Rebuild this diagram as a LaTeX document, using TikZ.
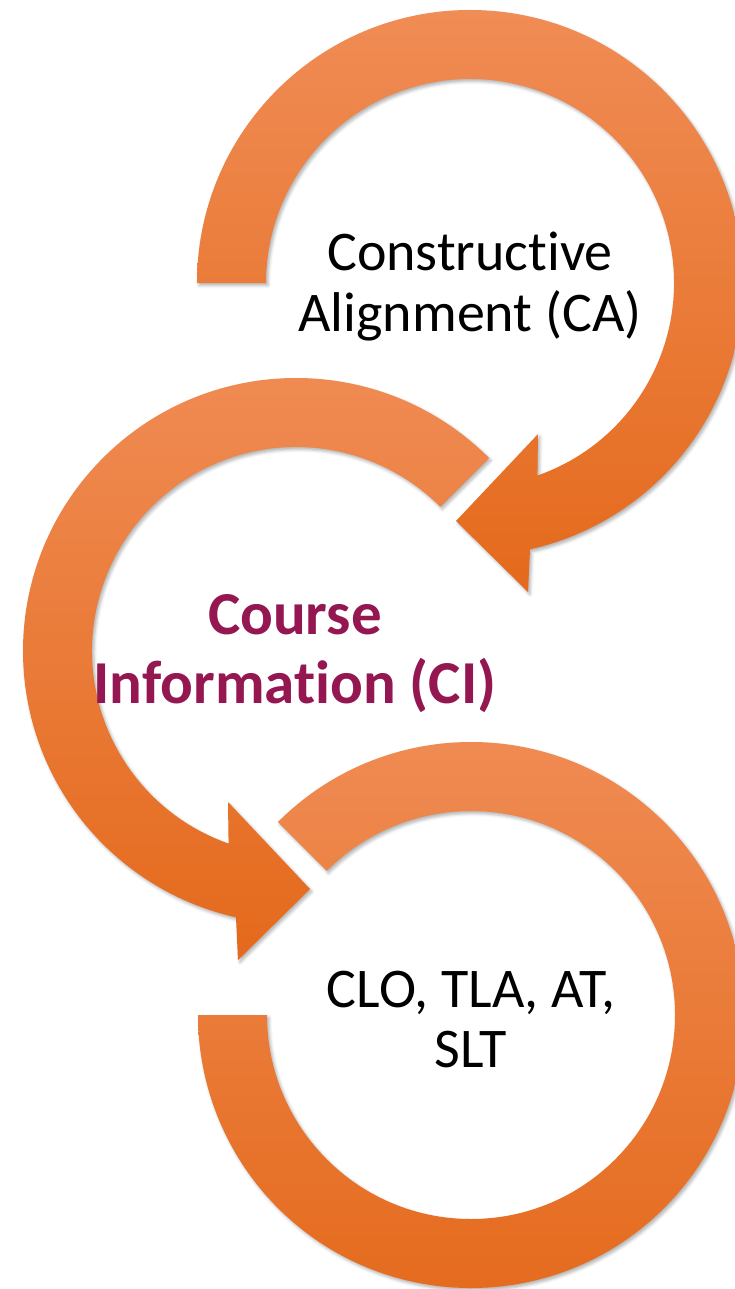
\documentclass[tikz,border=0pt]{standalone}
\usepackage{fontspec}
\setmainfont{Carlito}[Ligatures=NoCommon]
\usetikzlibrary{shadows.blur}
\definecolor{ringtop}{RGB}{240,140,85}
\definecolor{ringmid}{RGB}{242,126,46}
\definecolor{ringbot}{RGB}{228,106,28}
\definecolor{cimaroon}{RGB}{148,23,81}
\begin{document}
\begin{tikzpicture}[x=1pt, y=-1pt,
  ring/.style={top color=ringtop, middle color=ringmid, bottom color=ringbot, draw=none,
    blur shadow={shadow xshift=2pt, shadow yshift=-2.5pt, shadow blur radius=3pt, shadow opacity=30}},
  plaintext/.style={align=center, text=black, font=\fontsize{56}{60.5}\selectfont, inner sep=0pt},
  boldtext/.style={align=center, text=cimaroon, font=\bfseries\fontsize{61}{68.4}\selectfont, inner sep=0pt}]
\useasboundingbox (0,0) rectangle (735,1289);
\clip (0,0) rectangle (735,1289);
% top ring with arrowhead
\begin{scope}[shift={(470,283)}]
  \path[ring] (180:273) arc[start angle=180, end angle=437.3, radius=273]
    -- (58,309) -- (-14,238) -- (68,151)
    -- (430.7:204) arc[start angle=430.7, end angle=180, radius=204] -- cycle;
\end{scope}
% middle ring with arrowhead
\begin{scope}[shift={(296,651)}]
  \path[ring] (315:273) arc[start angle=315, end angle=102.7, radius=273]
    -- (-58,309) -- (14,238) -- (-68,151)
    -- (109.3:204) arc[start angle=109.3, end angle=315, radius=204] -- cycle;
\end{scope}
% bottom ring
\begin{scope}[shift={(471,1015)}]
  \path[ring] (225:273) arc[start angle=225, end angle=540, radius=273]
    -- (540:204) arc[start angle=540, end angle=225, radius=204] -- cycle;
\end{scope}
\node[plaintext, anchor=base] (ca) at (470,331.4) {Constructive\\Alignment (CA)};
\node[boldtext, anchor=base] (ci) at (295,703.2) {Course\\Information (CI)};
\node[plaintext, anchor=base] (clo) at (471,1067.7) {CLO, TLA, AT,\\SLT};
\end{tikzpicture}
\end{document}
